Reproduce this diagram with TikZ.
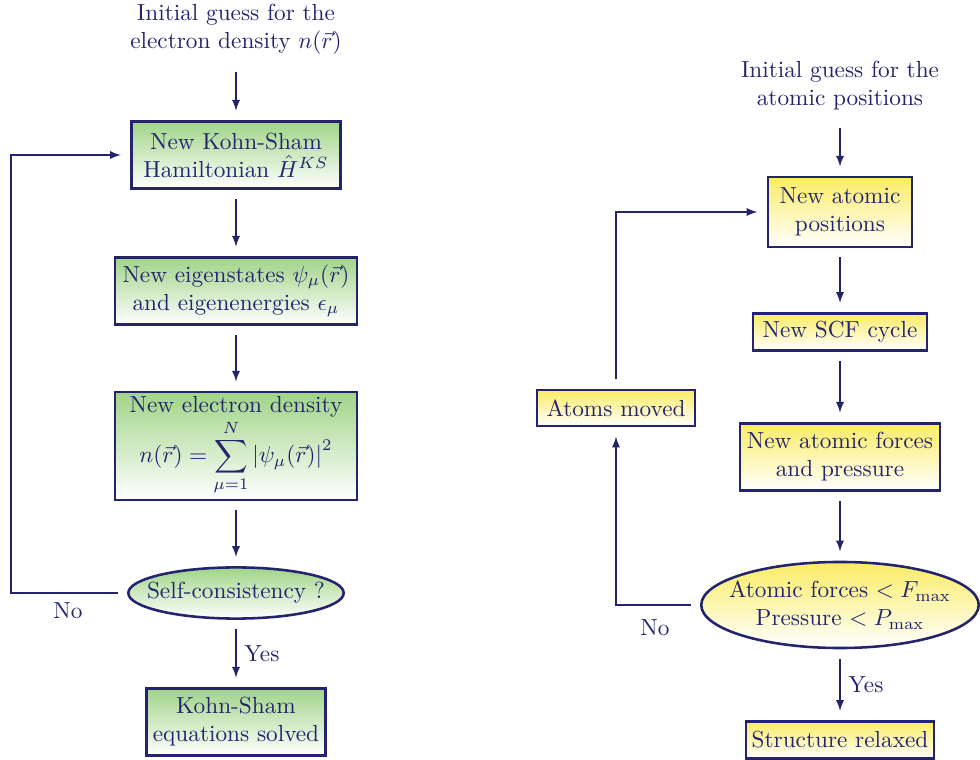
\documentclass[tikz,border=0pt]{standalone}
\usepackage{amsmath}
\usepackage{amssymb}
\usepackage{tikz}
\usetikzlibrary{shapes.geometric}

\definecolor{navy}{RGB}{35,35,110}
\definecolor{scfgreen}{RGB}{160,212,135}
\definecolor{relaxyellow}{RGB}{250,236,100}

\begin{document}
\begin{tikzpicture}[x=0.43pt,y=-0.43pt,>=latex,
    every node/.style={text=navy},
    flow/.style={->, draw=navy, semithick, shorten <=4pt, shorten >=4pt},
    greenbox/.style={draw=navy, line width=1.1pt, top color=scfgreen, bottom color=white, align=center, inner sep=2pt},
    greenell/.style={ellipse, draw=navy, line width=1.1pt, top color=scfgreen, bottom color=white, align=center, inner xsep=-5.5pt, inner ysep=0pt},
    yellowbox/.style={draw=navy, line width=1.1pt, top color=relaxyellow, bottom color=white, align=center, inner sep=2pt},
    yellowell/.style={ellipse, draw=navy, line width=1.1pt, top color=relaxyellow, bottom color=white, align=center, inner xsep=-5.5pt, inner ysep=0pt}]
  \useasboundingbox (0,0) rectangle (980,760);

  % SCF cycle
  \node[align=center] (guessn) at (236,29) {Initial guess for the\\electron density $n(\vec{r})$};
  \node[greenbox, minimum width=90pt, minimum height=29pt] (ham) at (236,155) {New Kohn-Sham\\Hamiltonian $\hat{H}^{KS}$};
  \node[greenbox, minimum width=104pt, minimum height=29pt] (eig) at (236,291) {New eigenstates $\psi_\mu(\vec{r})$\\and eigenenergies $\epsilon_\mu$};
  \node[greenbox, minimum width=104pt, minimum height=46pt] (dens) at (236,446) {New electron density\\$\displaystyle n(\vec{r})=\sum_{\mu=1}^{N}\left|\psi_\mu(\vec{r})\right|^2$};
  \node[greenell, minimum height=22pt] (selfc) at (236,593) {Self-consistency ?};
  \node[greenbox, minimum width=77pt, minimum height=29pt] (solved) at (236,722) {Kohn-Sham\\equations solved};
  \coordinate (lturn) at (11,593);

  \draw[flow] (guessn) -- (ham);
  \draw[flow] (ham) -- (eig);
  \draw[flow] (eig) -- (dens);
  \draw[flow] (dens) -- (selfc);
  \draw[flow] (selfc) -- node[right] {Yes} (solved);
  \draw[flow] (selfc.west) -- (lturn) |- (ham.west);
  \node (lno) at (68,611) {No};

  % relaxation
  \node[align=center] (guessr) at (840,86) {Initial guess for the\\atomic positions};
  \node[yellowbox, minimum width=62pt, minimum height=30pt] (pos) at (840,212) {New atomic\\positions};
  \node[yellowbox, minimum width=75pt, minimum height=16pt] (scf) at (840,332) {New SCF cycle};
  \node[yellowbox, minimum width=86pt, minimum height=29pt] (forces) at (840,457) {New atomic forces\\and pressure};
  \node[yellowell, minimum height=37pt] (crit) at (840,605) {Atomic forces $<F_{\max}$\\Pressure $<P_{\max}$};
  \node[yellowbox, minimum width=81pt, minimum height=16pt] (relaxed) at (840,740) {Structure relaxed};
  \node[yellowbox, minimum width=68pt, minimum height=15.5pt] (moved) at (616,408) {Atoms moved};

  \draw[flow] (guessr) -- (pos);
  \draw[flow] (pos) -- (scf);
  \draw[flow] (scf) -- (forces);
  \draw[flow] (forces) -- (crit);
  \draw[flow] (crit) -- node[right] {Yes} (relaxed);
  \draw[flow] (crit.west) -| (moved.south);
  \draw[flow] (moved.north) |- (pos.west);
  \node (rno) at (655,628) {No};
\end{tikzpicture}
\end{document}
